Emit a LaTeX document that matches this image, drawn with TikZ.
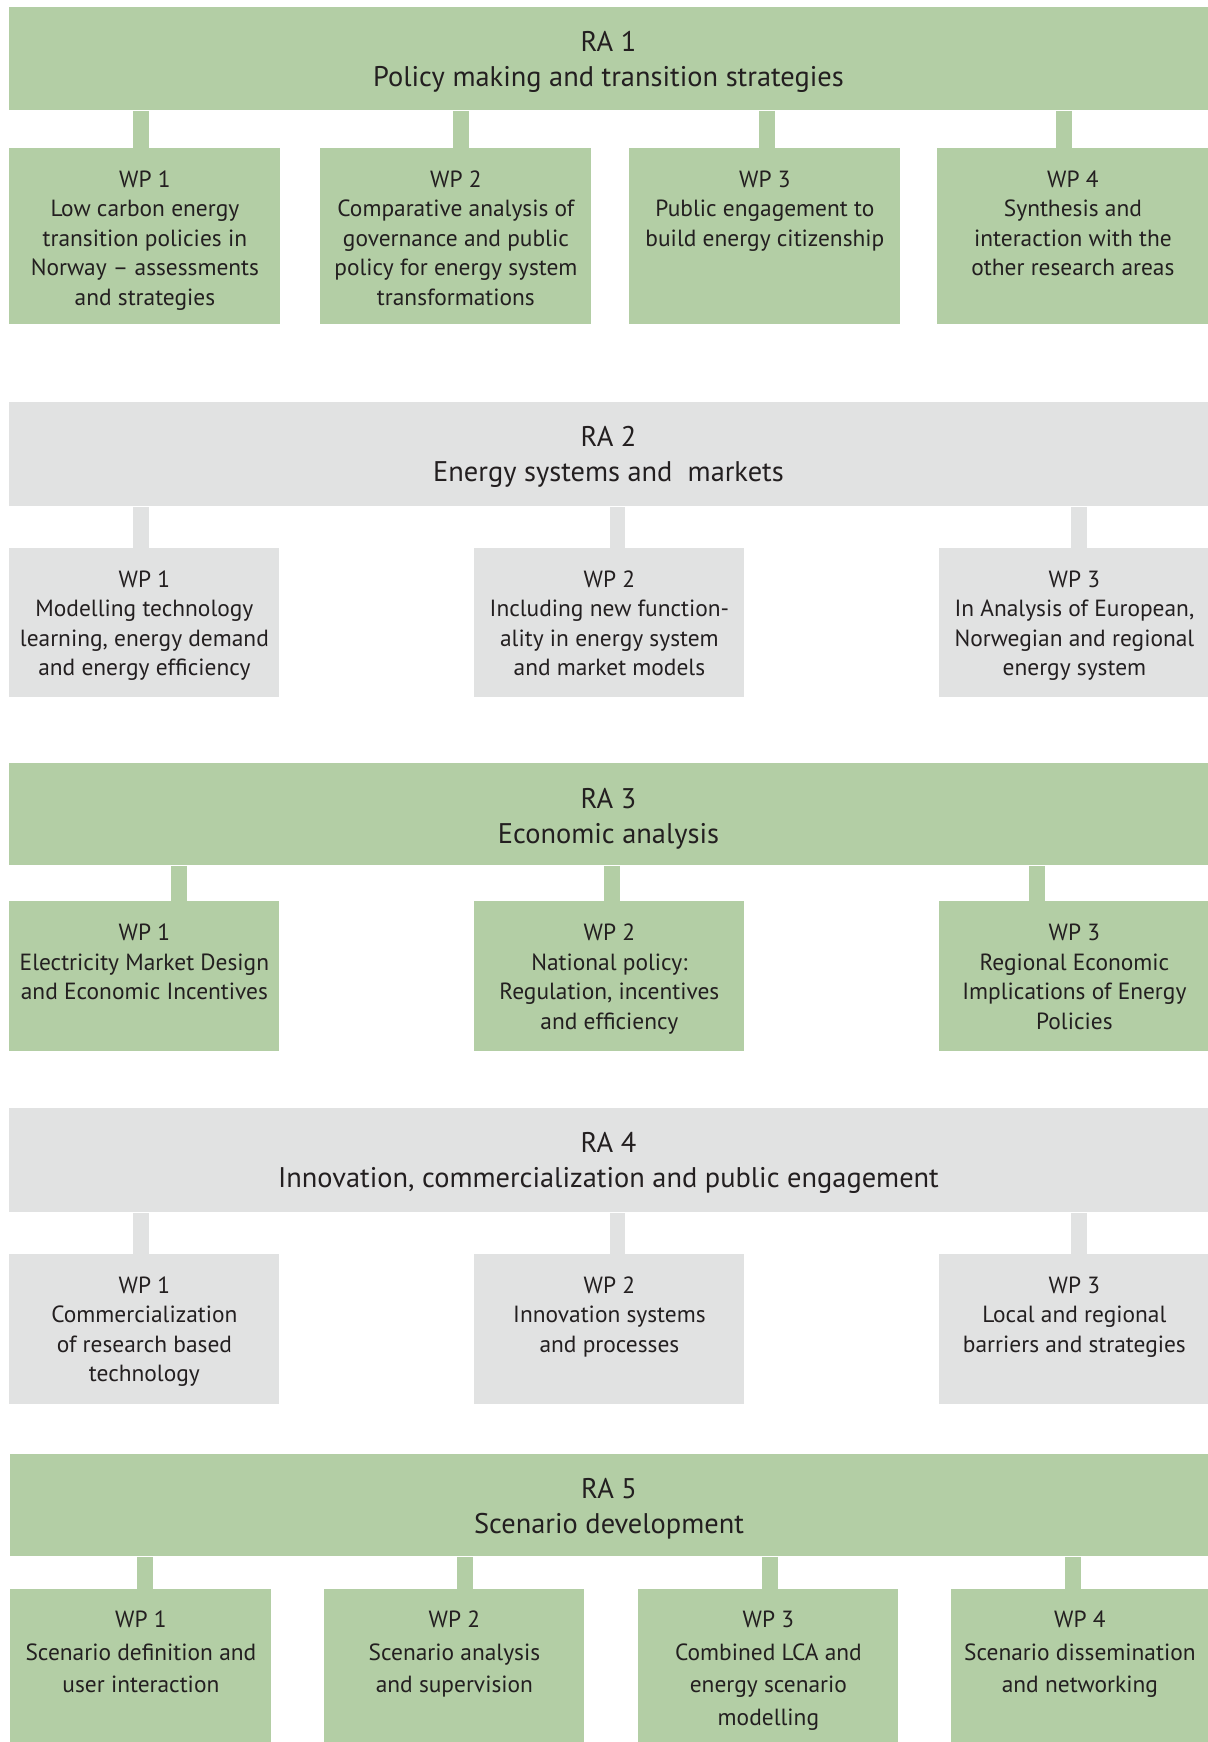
\documentclass[tikz,border=0pt]{standalone}
\usepackage{fontspec}
\setmainfont{PT Sans}
\definecolor{ragreen}{RGB}{179,206,165}
\definecolor{ragray}{RGB}{225,226,226}
\definecolor{txt}{RGB}{35,31,32}
\newcommand\lines[1]{\begin{tabular}[t]{@{}c@{}}#1\end{tabular}}
\tikzset{
  boxg/.style={fill=ragreen, inner sep=0pt, anchor=north west},
  boxy/.style={fill=ragray, inner sep=0pt, anchor=north west},
  rabox/.style={minimum width=599.5pt, minimum height=51.5pt},
  ratxt/.style={anchor=base, inner sep=0pt, text=txt, font=\fontsize{14.2}{17.6}\selectfont},
  wptxt/.style={anchor=base, inner sep=0pt, text=txt, font=\fontsize{11.7}{14.75}\selectfont},
  wptxtb/.style={anchor=base, inner sep=0pt, text=txt, font=\fontsize{11.7}{16.3}\selectfont},
  conng/.style={draw=ragreen, line width=7.75pt},
  conny/.style={draw=ragray, line width=7.75pt},
}
\begin{document}
\begin{tikzpicture}[x=0.5pt,y=-0.5pt]
\useasboundingbox (0,0) rectangle (1208,1742);
% ---------- RA 1 ----------
\node[boxg, rabox] (r1) at (9,7) {};
\node[ratxt] (r1t) at (608.5,51.7) {\lines{RA 1\\Policy making and transition strategies}};
\node[boxg, minimum width=135.5pt, minimum height=88pt] (r1w1) at (9,148) {};
\node[boxg, minimum width=135.5pt, minimum height=88pt] (r1w2) at (320,148) {};
\node[boxg, minimum width=135.5pt, minimum height=88pt] (r1w3) at (629,148) {};
\node[boxg, minimum width=135.5pt, minimum height=88pt] (r1w4) at (937,148) {};
\coordinate (k11) at (141,0); \coordinate (k12) at (461,0);
\coordinate (k13) at (767,0); \coordinate (k14) at (1064,0);
\draw[conng] (r1.south -| k11) -- (r1w1.north -| k11);
\draw[conng] (r1.south -| k12) -- (r1w2.north -| k12);
\draw[conng] (r1.south -| k13) -- (r1w3.north -| k13);
\draw[conng] (r1.south -| k14) -- (r1w4.north -| k14);
\node[wptxt] (r1w1t) at (r1w1.north |- 0,187.3) {\lines{WP 1\\Low carbon energy\\transition policies in\\Norway – assessments\\and strategies}};
\node[wptxt] (r1w2t) at (r1w2.north |- 0,187.3) {\lines{WP 2\\Comparative analysis of\\governance and public\\policy for energy system\\transformations}};
\node[wptxt] (r1w3t) at (r1w3.north |- 0,187.3) {\lines{WP 3\\Public engagement to\\build energy citizenship}};
\node[wptxt] (r1w4t) at (r1w4.north |- 0,187.3) {\lines{WP 4\\Synthesis and\\interaction with the\\other research areas}};
% ---------- RA 2 ----------
\node[boxy, rabox, minimum height=52pt] (r2) at (9,402) {};
\node[ratxt] (r2t) at (608.5,446.7) {\lines{RA 2\\Energy systems and\ \ markets}};
\node[boxy, minimum width=135pt, minimum height=74.5pt] (r2w1) at (9,548) {};
\node[boxy, minimum width=135pt, minimum height=74.5pt] (r2w2) at (474,548) {};
\node[boxy, minimum width=135pt, minimum height=74.5pt] (r2w3) at (939,548) {};
\coordinate (k21) at (141,0); \coordinate (k22) at (617.5,0); \coordinate (k23) at (1079,0);
\draw[conny] (r2.south -| k21) -- (r2w1.north -| k21);
\draw[conny] (r2.south -| k22) -- (r2w2.north -| k22);
\draw[conny] (r2.south -| k23) -- (r2w3.north -| k23);
\node[wptxt] (r2w1t) at (r2w1.north |- 0,587.3) {\lines{WP 1\\Modelling technology\\learning, energy demand\\and energy efficiency}};
\node[wptxt] (r2w2t) at (r2w2.north |- 0,587.3) {\lines{WP 2\\Including new function-\\ality in energy system\\and market models}};
\node[wptxt] (r2w3t) at (r2w3.north |- 0,587.3) {\lines{WP 3\\In Analysis of European,\\Norwegian and regional\\energy system}};
% ---------- RA 3 ----------
\node[boxg, rabox, minimum height=51pt] (r3) at (9,763) {};
\node[ratxt] (r3t) at (608.5,808.3) {\lines{RA 3\\Economic analysis}};
\node[boxg, minimum width=135pt, minimum height=75pt] (r3w1) at (9,901) {};
\node[boxg, minimum width=135pt, minimum height=75pt] (r3w2) at (474,901) {};
\node[boxg, minimum width=135pt, minimum height=75pt] (r3w3) at (939,901) {};
\coordinate (k31) at (179,0); \coordinate (k32) at (612,0); \coordinate (k33) at (1037,0);
\draw[conng] (r3.south -| k31) -- (r3w1.north -| k31);
\draw[conng] (r3.south -| k32) -- (r3w2.north -| k32);
\draw[conng] (r3.south -| k33) -- (r3w3.north -| k33);
\node[wptxt] (r3w1t) at (r3w1.north |- 0,940.7) {\lines{WP 1\\Electricity Market Design\\and Economic Incentives}};
\node[wptxt] (r3w2t) at (r3w2.north |- 0,940.7) {\lines{WP 2\\National policy:\\Regulation, incentives\\and efficiency}};
\node[wptxt] (r3w3t) at (r3w3.north |- 0,940.7) {\lines{WP 3\\Regional Economic\\Implications of Energy\\Policies}};
% ---------- RA 4 ----------
\node[boxy, rabox, minimum height=52pt] (r4) at (9,1108) {};
\node[ratxt] (r4t) at (608.5,1152.7) {\lines{RA 4\\Innovation, commercialization and public engagement}};
\node[boxy, minimum width=135pt, minimum height=75pt] (r4w1) at (9,1254) {};
\node[boxy, minimum width=135pt, minimum height=75pt] (r4w2) at (474,1254) {};
\node[boxy, minimum width=135pt, minimum height=75pt] (r4w3) at (939,1254) {};
\coordinate (k41) at (141,0); \coordinate (k42) at (617.5,0); \coordinate (k43) at (1079,0);
\draw[conny] (r4.south -| k41) -- (r4w1.north -| k41);
\draw[conny] (r4.south -| k42) -- (r4w2.north -| k42);
\draw[conny] (r4.south -| k43) -- (r4w3.north -| k43);
\node[wptxt] (r4w1t) at (r4w1.north |- 0,1293.3) {\lines{WP 1\\Commercialization\\of research based\\technology}};
\node[wptxt] (r4w2t) at (r4w2.north |- 0,1293.3) {\lines{WP 2\\Innovation systems\\and processes}};
\node[wptxt] (r4w3t) at (r4w3.north |- 0,1293.3) {\lines{WP 3\\Local and regional\\barriers and strategies}};
% ---------- RA 5 ----------
\node[boxg, minimum width=599pt, minimum height=51pt] (r5) at (10,1454) {};
\node[ratxt] (r5t) at (609,1498.3) {\lines{RA 5\\Scenario development}};
\node[boxg, minimum width=130.5pt, minimum height=76.5pt] (r5w1) at (10,1589) {};
\node[boxg, minimum width=130pt, minimum height=76.5pt] (r5w2) at (324,1589) {};
\node[boxg, minimum width=130pt, minimum height=76.5pt] (r5w3) at (638,1589) {};
\node[boxg, minimum width=128.5pt, minimum height=76.5pt] (r5w4) at (951,1589) {};
\coordinate (k51) at (145,0); \coordinate (k52) at (465,0);
\coordinate (k53) at (770,0); \coordinate (k54) at (1073,0);
\draw[conng] (r5.south -| k51) -- (r5w1.north -| k51);
\draw[conng] (r5.south -| k52) -- (r5w2.north -| k52);
\draw[conng] (r5.south -| k53) -- (r5w3.north -| k53);
\draw[conng] (r5.south -| k54) -- (r5w4.north -| k54);
\node[wptxtb] (r5w1t) at (r5w1.north |- 0,1627.7) {\lines{WP 1\\Scenario definition and\\user interaction}};
\node[wptxtb] (r5w2t) at (r5w2.north |- 0,1627.7) {\lines{WP 2\\Scenario analysis\\and supervision}};
\node[wptxtb] (r5w3t) at (r5w3.north |- 0,1627.7) {\lines{WP 3\\Combined LCA and\\energy scenario\\modelling}};
\node[wptxtb] (r5w4t) at (r5w4.north |- 0,1627.7) {\lines{WP 4\\Scenario dissemination\\and networking}};
\end{tikzpicture}
\end{document}
